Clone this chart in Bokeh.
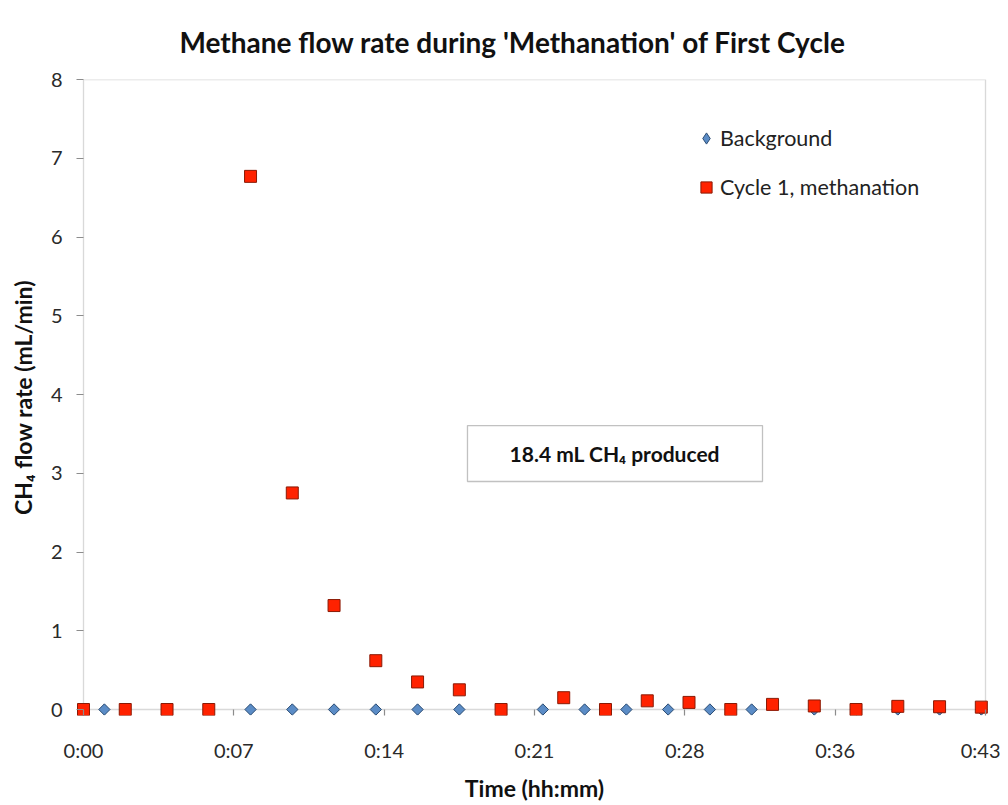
from math import pi
from bokeh.plotting import figure
from bokeh.models import (Range1d, FixedTicker, Legend, LegendItem, BoxAnnotation, Label)
from bokeh.embed import file_html
from bokeh.resources import INLINE

# ---- data (minutes, mL/min) ----
cycle_t = [0, 2, 4, 6, 8, 10, 12, 14, 16, 18, 20, 23, 25, 27, 29, 31, 33, 35, 37, 39, 41, 43]
cycle_v = [0, 0, 0, 0, 6.77, 2.75, 1.32, 0.62, 0.35, 0.25, 0, 0.15, 0, 0.11, 0.09, 0, 0.065, 0.045, 0, 0.04, 0.035, 0.03]
bg_t = [0, 1, 8, 10, 12, 14, 16, 18, 22, 24, 26, 28, 30, 32, 35, 37, 39, 41, 43]
bg_v = [0] * len(bg_t)
x_ticks = [0, 7.2, 14.4, 21.6, 28.8, 36.0, 43.2]
x_tick_labels = ["0:00", "0:07", "0:14", "0:21", "0:28", "0:36", "0:43"]
y_ticks = [0, 1, 2, 3, 4, 5, 6, 7, 8]

FONT = "Lato"
X_MAX = 43.2
Y_MAX = 8
PADX_PX, PADY_PX = 7, 6
px_x = 902 / X_MAX
px_y = 630 / Y_MAX

p = figure(width=1000, height=803, frame_width=902 + 2 * PADX_PX, frame_height=630 + PADY_PX,
           x_range=Range1d(-PADX_PX / px_x, X_MAX + PADX_PX / px_x),
           y_range=Range1d(-PADY_PX / px_y, Y_MAX),
           output_backend="svg", toolbar_location=None,
           min_border_left=76, min_border_top=79, min_border_right=8, min_border_bottom=88)

p.title.text = "Methane flow rate during 'Methanation' of First Cycle"
p.title.text_font = FONT
p.title.text_font_size = "28px"
p.title.text_font_style = "bold"
p.title.align = "left"
p.title.text_color = "#111111"
p.title.standoff = 42
p.title.offset = 103

p.outline_line_color = None
p.xgrid.visible = False
p.ygrid.visible = False

for ax in (p.xaxis[0], p.yaxis[0]):
    ax.axis_line_color = None
    ax.major_tick_line_color = "#8c8c8c"
    ax.major_tick_line_width = 1.2
    ax.major_tick_out = 0
    ax.minor_tick_line_color = None
    ax.major_label_text_font = FONT
    ax.major_label_text_font_size = "20px"
    ax.major_label_text_color = "#2a2a2a"
    ax.axis_label_text_font = FONT
    ax.axis_label_text_font_style = "bold"
    ax.axis_label_text_font_size = "23px"
    ax.axis_label_text_color = "#111111"

p.xaxis[0].ticker = FixedTicker(ticks=x_ticks)
p.xaxis[0].major_label_overrides = {t: l for t, l in zip(x_ticks, x_tick_labels)}
p.xaxis[0].major_tick_in = PADY_PX
p.xaxis[0].major_label_standoff = 22
p.xaxis[0].axis_label = "Time (hh:mm)"
p.xaxis[0].axis_label_standoff = 9

p.yaxis[0].ticker = FixedTicker(ticks=y_ticks)
p.yaxis[0].major_tick_in = PADX_PX
p.yaxis[0].major_label_standoff = 14
p.yaxis[0].axis_label = "CH\u2084 flow rate (mL/min)"
p.yaxis[0].axis_label_standoff = 11

# plot-area border / axis lines
p.add_layout(BoxAnnotation(left=0, right=X_MAX, bottom=0, top=Y_MAX,
                           fill_alpha=0, line_color="#808080", line_width=1.3, level="underlay"))

# legend swatch renderer for the diamond: a plain diamond hidden under the rotated squares
bg_key = p.scatter(bg_t, bg_v, marker="diamond", size=9,
                   fill_color="#5b8cc6", line_color="#2c4d74", line_width=1)
bg_r = p.scatter(bg_t, bg_v, marker="square", angle=pi / 4, size=8,
                 fill_color="#5b8cc6", line_color="#2c4d74", line_width=1)
cy_r = p.scatter(cycle_t, cycle_v, marker="square", size=12,
                 fill_color="#ff2200", line_color="#8a1a05", line_width=1)

legend = Legend(items=[LegendItem(label="Background", renderers=[bg_key]),
                       LegendItem(label="Cycle 1, methanation", renderers=[cy_r])],
                location=(616, 514), orientation="vertical",
                border_line_color=None, background_fill_alpha=0,
                padding=0, margin=0, spacing=21,
                glyph_width=28, glyph_height=28, label_height=28, label_standoff=0,
                label_text_font=FONT, label_text_font_size="21.5px", label_text_color="#222222",
                label_text_baseline="middle")
p.add_layout(legend)

# annotation box
p.add_layout(BoxAnnotation(left=18.39, right=32.52, bottom=2.895, top=3.606,
                           fill_color="white", fill_alpha=1, line_color="#333333", line_width=1.3))
p.add_layout(Label(x=25.45, y=3.25, text="18.4 mL CH\u2084 produced", text_align="center",
                   text_baseline="middle", text_font=FONT, text_font_style="bold",
                   text_font_size="21px", text_color="#111111"))

open("out.html", "w").write(file_html(p, INLINE))
